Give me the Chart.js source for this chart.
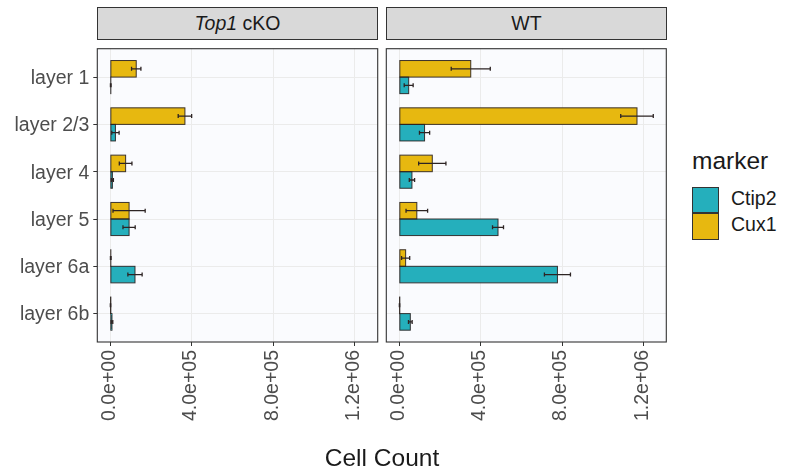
<!DOCTYPE html>
<html>
<head>
<meta charset="utf-8">
<script src="https://cdn.jsdelivr.net/npm/chart.js@4.4.1/dist/chart.umd.min.js"></script>
<style>
  body { margin: 0; background: #fff; width: 785px; height: 469px; position: relative; overflow: hidden;
         font-family: 'Liberation Sans', Arial, sans-serif; }
  canvas { position: absolute; top: 0; }
  .strip { position: absolute; top: 7px; height: 33px; box-sizing: border-box; background: #d9d9d9;
           border: 1px solid #333; text-align: center; line-height: 31px; font-size: 19.5px; color: #1a1a1a; }
  .txt { position: absolute; line-height: 1; white-space: nowrap; }
  .key { position: absolute; left: 692px; width: 27px; height: 26.5px; box-sizing: border-box; border: 1px solid #333; }
</style>
</head>
<body>
<canvas id="ckoChart" width="385" height="469" style="left:0px"></canvas>
<canvas id="wtChart" width="300" height="469" style="left:380px"></canvas>

<div class="strip" style="left:97px;width:281px"><i>Top1</i> cKO</div>
<div class="strip" style="left:386px;width:281px">WT</div>

<div class="txt" style="left:282px;width:200px;text-align:center;top:446px;font-size:24.5px;color:#1a1a1a">Cell Count</div>

<div class="txt" style="left:692px;top:149px;font-size:24.5px;color:#1a1a1a">marker</div>
<div class="key" style="top:186.5px;background:#25afbc"></div>
<div class="key" style="top:213px;background:#e7b810"></div>
<div class="txt" style="left:731px;top:189px;font-size:19.5px;color:#1a1a1a">Ctip2</div>
<div class="txt" style="left:731px;top:215px;font-size:19.5px;color:#1a1a1a">Cux1</div>

<script>
// categories
const layers = ["layer 1", "layer 2/3", "layer 4", "layer 5", "layer 6a", "layer 6b"];
const xTicks = [0, 400000, 800000, 1200000];

// Top1 cKO means / sd
const ckoCux1 = [127000, 366000, 75000, 92000, 2000, 800];
const ckoCux1Sd = [23000, 33000, 31000, 79000, 1500, 800];
const ckoCtip2 = [2000, 25000, 10000, 92000, 121000, 8000];
const ckoCtip2Sd = [1500, 18000, 5000, 30000, 35000, 4000];

// WT means / sd
const wtCux1 = [351000, 1168000, 162000, 86000, 31000, 1000];
const wtCux1Sd = [96000, 80000, 67000, 53000, 20000, 800];
const wtCtip2 = [46000, 124000, 62000, 485000, 777000, 54000];
const wtCtip2Sd = [22000, 25000, 13000, 27000, 64000, 9000];

const colCtip2 = "#25afbc";
const colCux1 = "#e7b810";

Chart.defaults.font.family = "'Liberation Sans', Arial, sans-serif";

// 0.0e+00 style labels
function sci(v) {
    if (v === 0) return "0.0e+00";
    const e = Math.floor(Math.log10(Math.abs(v)));
    const m = v / Math.pow(10, e);
    return m.toFixed(1) + "e+" + String(e).padStart(2, "0");
}

// panel background + border
const panelPlugin = {
    id: "panel",
    beforeDraw(chart) {
        const a = chart.chartArea, ctx = chart.ctx;
        ctx.save();
        ctx.fillStyle = "#fafbfe";
        ctx.fillRect(a.left, a.top, a.right - a.left, a.bottom - a.top);
        ctx.restore();
    },
    afterDraw(chart) {
        const a = chart.chartArea, ctx = chart.ctx;
        ctx.save();
        ctx.strokeStyle = "#333";
        ctx.lineWidth = 1.1;
        ctx.strokeRect(a.left, a.top, a.right - a.left, a.bottom - a.top);
        ctx.restore();
    }
};

// bar outlines (also for near-zero bars, like ggplot) + error bars from dataset.sd
const errorPlugin = {
    id: "errbars",
    afterDatasetsDraw(chart) {
        const ctx = chart.ctx, xs = chart.scales.x;
        ctx.save();
        ctx.strokeStyle = "rgba(40,32,32,0.9)";
        ctx.lineWidth = 1;
        chart.data.datasets.forEach((ds, i) => {
            chart.getDatasetMeta(i).data.forEach(bar => {
                ctx.strokeRect(bar.base, bar.y - bar.height / 2, bar.x - bar.base, bar.height);
            });
        });
        ctx.strokeStyle = "#2d2424";
        ctx.lineWidth = 1.3;
        chart.data.datasets.forEach((ds, i) => {
            const meta = chart.getDatasetMeta(i);
            meta.data.forEach((bar, j) => {
                const v = ds.data[j], sd = ds.sd[j];
                const lo = xs.getPixelForValue(v - sd), hi = xs.getPixelForValue(v + sd);
                const y = bar.y;
                ctx.beginPath();
                ctx.moveTo(lo, y); ctx.lineTo(hi, y);
                ctx.moveTo(lo, y - 2); ctx.lineTo(lo, y + 2);
                ctx.moveTo(hi, y - 2); ctx.lineTo(hi, y + 2);
                ctx.stroke();
            });
        });
        ctx.restore();
    }
};

function makePanel(canvasId, cux, cuxSd, ctip, ctipSd, showY, pad) {
    new Chart(document.getElementById(canvasId), {
        type: "bar",
        data: {
            labels: layers,
            datasets: [
                { label: "Cux1", data: cux, sd: cuxSd, backgroundColor: colCux1 },
                { label: "Ctip2", data: ctip, sd: ctipSd, backgroundColor: colCtip2 }
            ]
        },
        options: {
            indexAxis: "y",
            responsive: false,
            animation: false,
            devicePixelRatio: 1,
            layout: { padding: pad },
            datasets: {
                bar: {
                    categoryPercentage: 0.7,
                    barPercentage: 1,
                    borderWidth: 0
                }
            },
            plugins: { legend: { display: false }, tooltip: { enabled: false } },
            scales: {
                x: {
                    min: -64000,
                    max: 1312000,
                    afterBuildTicks: s => { s.ticks = xTicks.map(v => ({ value: v })); },
                    afterFit: s => { s.height = 127; },
                    border: { display: false },
                    grid: { color: "#ebebeb", lineWidth: 1, tickColor: "#333", tickLength: 4 },
                    ticks: {
                        minRotation: 90, maxRotation: 90, padding: 4, labelOffset: -1,
                        color: "#4d4d4d", font: { size: 19.5 },
                        callback: v => sci(v)
                    }
                },
                y: {
                    // ggplot-style discrete expansion of 0.6 units
                    afterBuildTicks: s => { s._startValue = -0.6; s._valueRange = layers.length - 1 + 1.2; },
                    afterFit: s => { s.width = showY ? 97.3 : 0; },
                    border: { display: false },
                    grid: { offset: false, color: "#ebebeb", lineWidth: 1, tickColor: "#333", tickLength: 4, drawTicks: showY },
                    ticks: { display: showY, padding: 4, labelOffset: 1.5, color: "#4d4d4d", font: { size: 19.5 } }
                }
            }
        },
        plugins: [panelPlugin, errorPlugin]
    });
}

makePanel("ckoChart", ckoCux1, ckoCux1Sd, ckoCtip2, ckoCtip2Sd, true, { top: 48.7, left: 0, right: 7.3, bottom: 0 });
makePanel("wtChart", wtCux1, wtCux1Sd, wtCtip2, wtCtip2Sd, false, { top: 48.7, left: 6.3, right: 13.7, bottom: 0 });
</script>
</body>
</html>
